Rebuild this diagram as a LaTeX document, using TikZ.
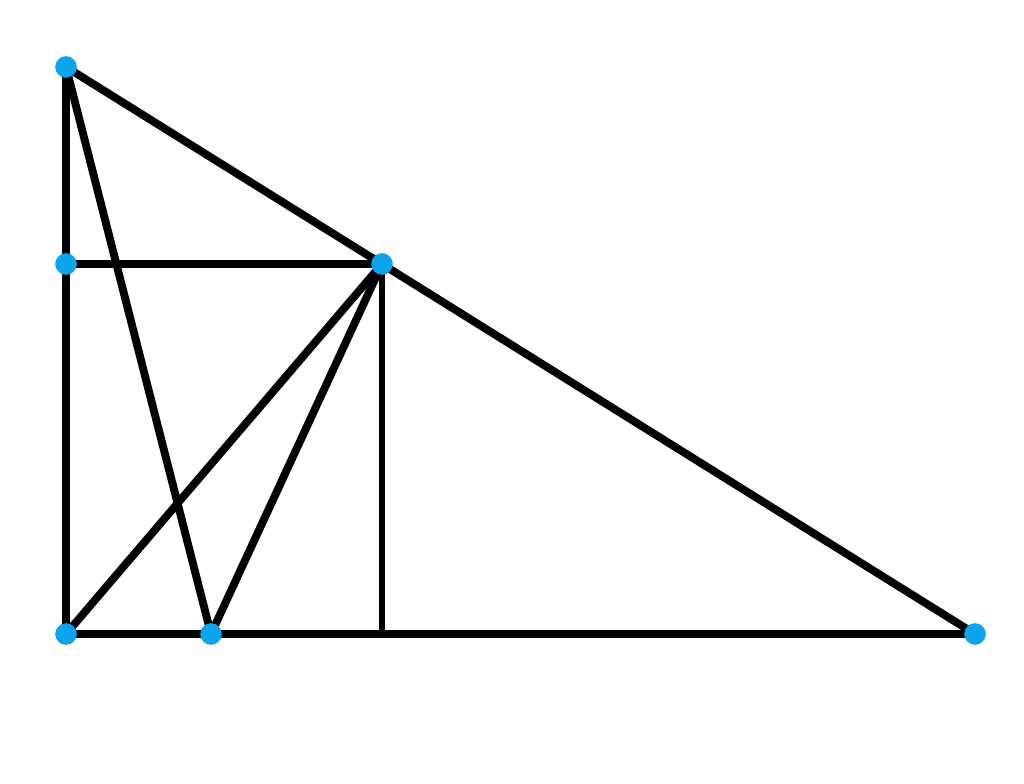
\documentclass[tikz,border=0pt]{standalone}
\usepackage{xcolor}
\definecolor{dotblue}{RGB}{10,165,236}
\begin{document}
\begin{tikzpicture}[line join=round, line cap=round, x=0.025cm, y=0.025cm]
	\useasboundingbox (0,0) rectangle (1024,783);
	\coordinate (A) at (66,716);
	\coordinate (M) at (66,519);
	\coordinate (D) at (382,519);
	\coordinate (B) at (66,149);
	\coordinate (E) at (211,149);
	\coordinate (H) at (382,149);
	\coordinate (C) at (975,149);
	\draw[line width=5.6pt] (A) -- (B) -- (C) -- cycle;
	\draw[line width=5.6pt] (M) -- (D) (A) -- (E) (B) -- (D) -- (E);
	\draw[line width=4.4pt] (D) -- (H);
	\foreach \p in {A,M,D,B,E,C}{\fill[dotblue] (\p) circle(0.27cm);}
\end{tikzpicture}
\end{document}
